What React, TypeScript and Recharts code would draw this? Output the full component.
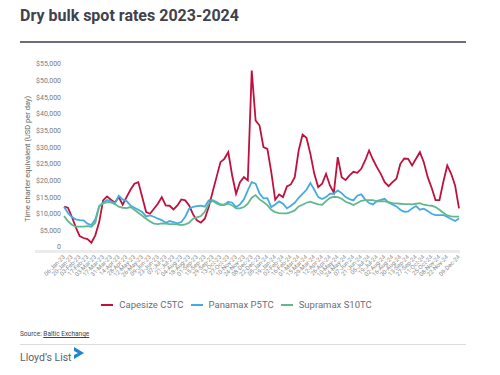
import { LineChart, Line, XAxis, YAxis } from 'recharts';

const dates = [
  '06-Jan-23', '13-Jan-23', '20-Jan-23', '27-Jan-23', '03-Feb-23', '10-Feb-23', '17-Feb-23', '24-Feb-23',
  '03-Mar-23', '10-Mar-23', '17-Mar-23', '24-Mar-23', '31-Mar-23', '07-Apr-23', '14-Apr-23', '21-Apr-23',
  '28-Apr-23', '05-May-23', '12-May-23', '19-May-23', '26-May-23', '02-Jun-23', '09-Jun-23', '16-Jun-23',
  '23-Jun-23', '30-Jun-23', '07-Jul-23', '14-Jul-23', '21-Jul-23', '28-Jul-23', '04-Aug-23', '11-Aug-23',
  '18-Aug-23', '25-Aug-23', '01-Sep-23', '08-Sep-23', '15-Sep-23', '22-Sep-23', '29-Sep-23', '06-Oct-23',
  '13-Oct-23', '20-Oct-23', '27-Oct-23', '03-Nov-23', '10-Nov-23', '17-Nov-23', '24-Nov-23', '01-Dec-23',
  '08-Dec-23', '15-Dec-23', '22-Dec-23', '29-Dec-23',
  '05-Jan-24', '12-Jan-24', '19-Jan-24', '26-Jan-24', '02-Feb-24', '09-Feb-24', '16-Feb-24', '23-Feb-24',
  '01-Mar-24', '08-Mar-24', '15-Mar-24', '22-Mar-24', '29-Mar-24', '05-Apr-24', '12-Apr-24', '19-Apr-24',
  '26-Apr-24', '03-May-24', '10-May-24', '17-May-24', '24-May-24', '31-May-24', '07-Jun-24', '14-Jun-24',
  '21-Jun-24', '28-Jun-24', '05-Jul-24', '12-Jul-24', '19-Jul-24', '26-Jul-24', '02-Aug-24', '09-Aug-24',
  '16-Aug-24', '23-Aug-24', '30-Aug-24', '06-Sep-24', '13-Sep-24', '20-Sep-24', '27-Sep-24', '04-Oct-24',
  '11-Oct-24', '18-Oct-24', '25-Oct-24', '01-Nov-24', '08-Nov-24', '15-Nov-24', '22-Nov-24', '29-Nov-24',
  '06-Dec-24', '09-Dec-24',
];

const capesize = [
  12100, 11800, 9100, 6000, 3300, 2700, 2400, 1300, 3500, 7500,
  14000, 15200, 14200, 13300, 15000, 12700, 15000, 17200, 19000, 19500,
  15000, 10500, 10000, 11500, 13000, 15000, 12500, 12400, 11300, 12500,
  14300, 14000, 12500, 9800, 8000, 7300, 8500, 12000, 16500, 21000,
  25500, 26500, 28500, 21500, 16000, 19500, 21000, 20000, 53000, 38000,
  36500, 30000, 29500, 22500, 14200, 15800, 15000, 18200, 18800, 21000,
  29000, 33800, 32800, 28000, 22000, 18000, 19000, 22000, 18500, 16300,
  27000, 21000, 20100, 21500, 22600, 22300, 23500, 26000, 29000, 26300,
  24000, 22000, 19500, 18300, 19500, 20500, 25000, 26600, 26500, 24500,
  26500, 28500, 25500, 21000, 17800, 14100, 14100, 19600, 24500, 22000,
  18500, 11600,
];

const panamax = [
  12100, 10200, 9000, 8300, 8100, 8000, 7000, 6600, 8300, 12300,
  13300, 14100, 13700, 13100, 15400, 14300, 13800, 12500, 11800, 11200,
  10500, 9200, 9500, 9100, 8500, 8100, 7300, 7800, 7500, 7100,
  7500, 9100, 11500, 12100, 12300, 12400, 12100, 14000, 14100, 13500,
  12800, 12700, 13600, 13300, 12000, 12800, 14300, 17000, 19500, 19000,
  16100, 14600, 14700, 12000, 12800, 13700, 13000, 11600, 12400, 13300,
  14800, 16000, 17200, 19200, 17200, 15000, 14400, 15000, 16000, 16000,
  17000, 16200, 15000, 14400, 14000, 15400, 15800, 14300, 13200, 12800,
  13800, 14200, 14500, 13300, 12800, 12200, 11200, 10600, 10700, 11600,
  12300, 11200, 11500, 10800, 10000, 9600, 9600, 9600, 9000, 8400,
  7800, 8600,
];

const supramax = [
  9300, 7800, 6700, 6100, 6100, 6100, 6300, 6100, 7300, 12200,
  13100, 13500, 13400, 12900, 12100, 11800, 11700, 12000, 11200, 10300,
  9400, 8500, 7700, 7000, 6900, 7100, 7000, 6900, 6900, 6800,
  6600, 6800, 7300, 8500, 8900, 9300, 10600, 13000, 13900, 13100,
  12600, 12700, 13000, 12500, 11600, 11600, 12000, 13000, 14800, 15600,
  14300, 13500, 12600, 11200, 10500, 10200, 10100, 10100, 10500, 11000,
  12200, 12700, 13300, 13600, 13200, 12800, 12700, 13800, 14800, 15100,
  15000, 14500, 13600, 13200, 12600, 13200, 13900, 14100, 14100, 14100,
  13700, 13800, 13700, 13500, 13200, 13100, 13000, 12900, 12900, 12800,
  13000, 13200, 12700, 12500, 12400, 12000, 11200, 10300, 9500, 9200,
  9100, 9100,
];

const yTicks = [0, 5000, 10000, 15000, 20000, 25000, 30000, 35000, 40000, 45000, 50000, 55000];

const series = [
  { key: 'capesize', name: 'Capesize C5TC', color: '#c0113d' },
  { key: 'panamax', name: 'Panamax P5TC', color: '#45abe2' },
  { key: 'supramax', name: 'Supramax S10TC', color: '#62b78c' },
];

const data = dates.map((date, i) => ({
  date,
  capesize: capesize[i],
  panamax: panamax[i],
  supramax: supramax[i],
}));

const shownDates = dates.filter((_, i) => (i % 2 === 0 && i < dates.length - 3) || i === dates.length - 1);

const fmt = (v: number) => (v === 0 ? '0' : '$' + v.toLocaleString('en-US'));

const DateTick = (props: any) => {
  const { x, y, payload } = props;
  return (
    <text
      x={x}
      y={y}
      dy={2}
      transform={`rotate(-45 ${x} ${y})`}
      textAnchor="end"
      fontSize={6}
      fill="#8a8a8a"
    >
      {payload.value}
    </text>
  );
};

export default function App() {
  return (
    <div
      style={{
        position: 'absolute',
        left: 0,
        top: 0,
        width: 500,
        height: 375,
        background: '#fff',
        fontFamily: 'Roboto, sans-serif',
        overflow: 'hidden',
      }}
    >
      <div
        style={{
          position: 'absolute',
          left: 20,
          top: 6,
          fontSize: 16,
          fontWeight: 700,
          lineHeight: '20px',
          color: '#40424d',
        }}
      >
        Dry bulk spot rates 2023-2024
      </div>
      <div style={{ position: 'absolute', left: 20, top: 41, width: 446, height: 2, background: '#6b6e78' }} />

      {/* axis baseline, runs under the y labels too */}
      <div style={{ position: 'absolute', left: 35, top: 250, width: 425, height: 3, background: '#ebebeb' }} />

      <div style={{ position: 'absolute', left: 0, top: 0 }}>
        <LineChart width={500} height={375} data={data} margin={{ top: 64, right: 41, left: 0, bottom: 88 }}>
          <XAxis
            dataKey="date"
            ticks={shownDates}
            interval={0}
            axisLine={false}
            tickLine={false}
            tickSize={0}
            tickMargin={9}
            height={40}
            tick={<DateTick />}
          />
          <YAxis
            domain={[0, 55000]}
            ticks={yTicks}
            tickFormatter={fmt}
            axisLine={false}
            tickLine={false}
            tickSize={0}
            tickMargin={3}
            width={64}
            tick={{ fontSize: 7, fill: '#7a7a7a' }}
            label={{
              content: () => (
                <text
                  x={27}
                  y={159}
                  transform="rotate(-90 27 159)"
                  textAnchor="middle"
                  dominantBaseline="central"
                  fontSize={7.5}
                  fill="#666"
                >
                  Time charter equivalent (USD per day)
                </text>
              ),
            }}
          />
          {series.map((s) => (
            <Line
              key={s.key}
              type="linear"
              dataKey={s.key}
              name={s.name}
              stroke={s.color}
              strokeWidth={1.8}
              dot={false}
              isAnimationActive={false}
            />
          ))}
        </LineChart>
      </div>

      <div
        style={{
          position: 'absolute',
          left: 0,
          top: 299,
          width: 480,
          display: 'flex',
          justifyContent: 'center',
          alignItems: 'center',
        }}
      >
        {series.map((s) => (
          <span key={s.key} style={{ display: 'inline-flex', alignItems: 'center', marginRight: 7 }}>
            <span style={{ width: 12, height: 2.5, background: s.color, marginRight: 6 }} />
            <span style={{ fontSize: 9.5, color: '#6b6e78', lineHeight: '12px' }}>{s.name}</span>
          </span>
        ))}
      </div>

      <div style={{ position: 'absolute', left: 20, top: 330, fontSize: 6.5, color: '#444' }}>
        Source: <span style={{ textDecoration: 'underline' }}>Baltic Exchange</span>
      </div>
      <div style={{ position: 'absolute', left: 20, top: 344, width: 446, height: 1, background: '#dcdcdc' }} />
      <div
        style={{
          position: 'absolute',
          left: 20,
          top: 350,
          fontSize: 10.5,
          color: '#5a6170',
          lineHeight: '14px',
          display: 'flex',
          alignItems: 'flex-start',
        }}
      >
        <span style={{ marginTop: 1 }}>Lloyd’s List</span>
        <svg width={12} height={16} style={{ marginLeft: 1, marginTop: -4 }}>
          <polygon points="1,1 11,7 1,13 1,9 5,7 1,5" fill="#1e86cf" />
        </svg>
      </div>
    </div>
  );
}
